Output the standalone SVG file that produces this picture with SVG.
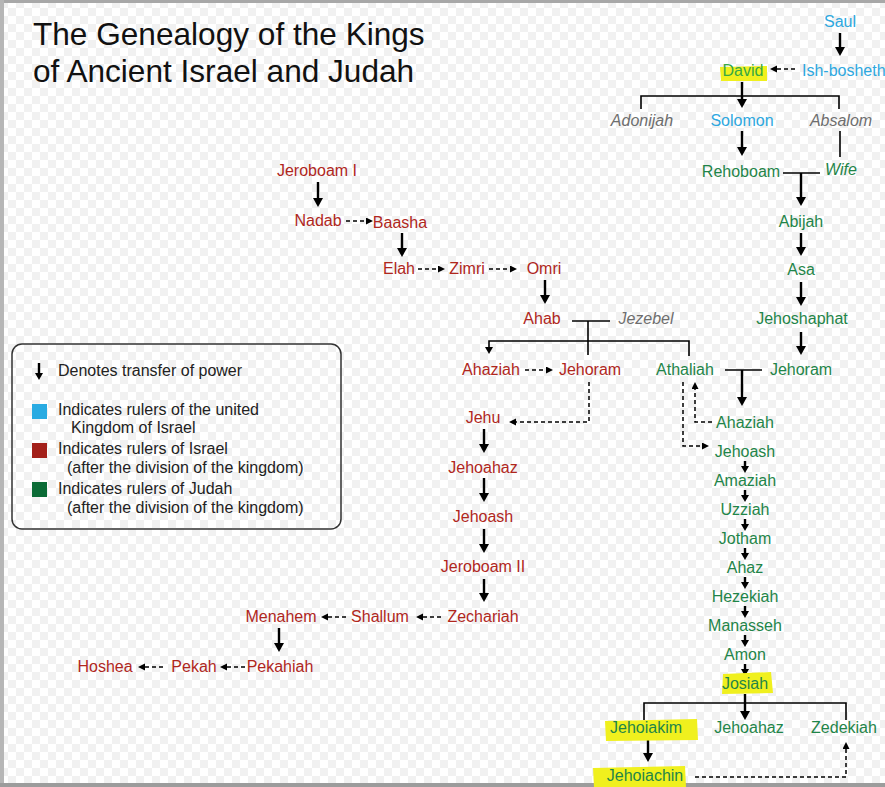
<svg xmlns="http://www.w3.org/2000/svg" width="885" height="787" viewBox="0 0 885 787">
<style>
text{font-family:"Liberation Sans",Arial,sans-serif;font-size:16px;text-anchor:middle}
.t{font-size:31.6px;text-anchor:start;fill:#111}
.b{fill:#2ea8df}.r{fill:#b0271d}.g{fill:#1f8549}.i{fill:#6e6e6e;font-style:italic}
.lg{text-anchor:start;fill:#222}
.hl{fill:#f0f01e}
.s{stroke:#000;stroke-width:2.4;fill:none}
.n{stroke:#000;stroke-width:1.6;fill:none}
.d{stroke:#000;stroke-width:1.5;fill:none;stroke-dasharray:4 3}
</style>
<defs>
<pattern id="chk" width="16" height="16" patternUnits="userSpaceOnUse"><rect width="16" height="16" fill="#ffffff"/><rect width="8" height="8" fill="#f1f1f1"/><rect x="8" y="8" width="8" height="8" fill="#f1f1f1"/></pattern>
<marker id="a" markerUnits="userSpaceOnUse" markerWidth="10" markerHeight="10" refX="5" refY="5" orient="auto"><path d="M0,0 L9,5 L0,10 z" fill="#000"/></marker>
<marker id="m" markerUnits="userSpaceOnUse" markerWidth="9" markerHeight="9" refX="4" refY="4" orient="auto"><path d="M0,0 L7,4 L0,8 z" fill="#000"/></marker>
<marker id="k" markerUnits="userSpaceOnUse" markerWidth="8" markerHeight="8" refX="3" refY="3.5" orient="auto"><path d="M0,0 L7,3.5 L0,7 z" fill="#000"/></marker>
</defs>
<rect width="885" height="787" fill="url(#chk)"/>
<rect x="0" y="0" width="885" height="3" fill="#a8a8a8"/>
<rect x="0" y="0" width="4" height="787" fill="#b6b6b6"/>
<rect x="0" y="783" width="885" height="4" fill="#9c9c9c"/>

<g id="title">
<text class="t" x="33" y="45">The Genealogy of the Kings</text>
<text class="t" x="33" y="82">of Ancient Israel and Judah</text>
</g>

<g id="legend">
<rect x="12" y="344" width="329" height="185" rx="10" fill="none" stroke="#333" stroke-width="1.5"/>
<line class="s" x1="39" y1="363" x2="39" y2="377" stroke-width="2" marker-end="url(#m)"/>
<text class="lg" x="58" y="376">Denotes transfer of power</text>
<rect x="32" y="404" width="15" height="15" fill="#29abe2"/>
<text class="lg" x="58" y="415">Indicates rulers of the united</text>
<text class="lg" x="71" y="433">Kingdom of Israel</text>
<rect x="32" y="443" width="15" height="15" fill="#a3201a"/>
<text class="lg" x="58" y="454">Indicates rulers of Israel</text>
<text class="lg" x="67" y="473">(after the division of the kingdom)</text>
<rect x="32" y="482" width="15" height="15" fill="#0b6b36"/>
<text class="lg" x="58" y="494">Indicates rulers of Judah</text>
<text class="lg" x="67" y="513">(after the division of the kingdom)</text>
</g>

<g id="connectors">
<line class="s" x1="840" y1="33" x2="840" y2="52" marker-end="url(#a)"/>
<path class="d" d="M795,69 H774" marker-end="url(#k)"/>
<path class="n" d="M641,109 V96 H839 V109"/>
<line class="s" x1="742" y1="82" x2="742" y2="104" marker-end="url(#a)"/>
<line class="s" x1="742" y1="131" x2="742" y2="152" marker-end="url(#a)"/>
<line class="n" x1="840" y1="131" x2="840" y2="157"/>
<line class="n" x1="783" y1="173" x2="820" y2="173"/>
<line class="s" x1="801" y1="173" x2="801" y2="202" marker-end="url(#a)"/>
<line class="s" x1="801" y1="233" x2="801" y2="252" marker-end="url(#a)"/>
<line class="s" x1="801" y1="282" x2="801" y2="302" marker-end="url(#a)"/>
<line class="s" x1="801" y1="332" x2="801" y2="351" marker-end="url(#a)"/>
<line class="n" x1="725" y1="370" x2="762" y2="370"/>
<line class="s" x1="742" y1="370" x2="742" y2="402" marker-end="url(#a)"/>
<path class="d" d="M712,422 H695 V386" marker-end="url(#k)"/>
<path class="d" d="M683,382 V446 H705" marker-end="url(#k)"/>
<line class="s" stroke-width="1.8" x1="745" y1="461" x2="745" y2="470" marker-end="url(#m)"/>
<line class="s" stroke-width="1.8" x1="745" y1="490" x2="745" y2="499" marker-end="url(#m)"/>
<line class="s" stroke-width="1.8" x1="745" y1="519" x2="745" y2="528" marker-end="url(#m)"/>
<line class="s" stroke-width="1.8" x1="745" y1="548" x2="745" y2="557" marker-end="url(#m)"/>
<line class="s" stroke-width="1.8" x1="745" y1="577" x2="745" y2="586" marker-end="url(#m)"/>
<line class="s" stroke-width="1.8" x1="745" y1="606" x2="745" y2="615" marker-end="url(#m)"/>
<line class="s" stroke-width="1.8" x1="745" y1="635" x2="745" y2="644" marker-end="url(#m)"/>
<line class="s" stroke-width="1.8" x1="745" y1="664" x2="745" y2="673" marker-end="url(#m)"/>
<path class="n" d="M644,720 V703 H846 V720"/>
<line class="s" x1="745" y1="694" x2="745" y2="716" marker-end="url(#a)"/>
<line class="s" x1="648" y1="740" x2="648" y2="758" marker-end="url(#a)"/>
<path class="d" d="M695,777 H846 V746" marker-end="url(#k)"/>
<line class="s" x1="318" y1="182" x2="318" y2="203" marker-end="url(#a)"/>
<path class="d" d="M346,221 H369" marker-end="url(#k)"/>
<line class="s" x1="402" y1="233" x2="402" y2="253" marker-end="url(#a)"/>
<path class="d" d="M418,269 H441" marker-end="url(#k)"/>
<path class="d" d="M489,269 H513" marker-end="url(#k)"/>
<line class="s" x1="545" y1="280" x2="545" y2="300" marker-end="url(#a)"/>
<line class="n" x1="572" y1="321" x2="610" y2="321"/>
<line class="n" x1="588" y1="321" x2="588" y2="355"/>
<path class="n" d="M689,356 V341 H489 V351" marker-end="url(#m)"/>
<path class="d" d="M525,370 H549" marker-end="url(#k)"/>
<path class="d" d="M589,382 V422 H513" marker-end="url(#k)"/>
<line class="s" x1="484" y1="429" x2="484" y2="449" marker-end="url(#a)"/>
<line class="s" x1="484" y1="478" x2="484" y2="498" marker-end="url(#a)"/>
<line class="s" x1="484" y1="529" x2="484" y2="549" marker-end="url(#a)"/>
<line class="s" x1="484" y1="579" x2="484" y2="598" marker-end="url(#a)"/>
<path class="d" d="M441,617 H420" marker-end="url(#k)"/>
<path class="d" d="M346,617 H325" marker-end="url(#k)"/>
<line class="s" x1="279" y1="628" x2="279" y2="648" marker-end="url(#a)"/>
<path class="d" d="M245,667 H224" marker-end="url(#k)"/>
<path class="d" d="M163,667 H142" marker-end="url(#k)"/>
</g>

<g id="saul"><text class="b" x="840" y="27">Saul</text></g>
<g id="david"><path class="hl" d="M720,67 L767,66 L767,81 L721,81 z"/><text x="743" y="76" fill="#37a845">David</text></g>
<g id="ish-bosheth"><text class="b" x="802" y="76" style="text-anchor:start">Ish-bosheth</text></g>
<g id="adonijah"><text class="i" x="642" y="126">Adonijah</text></g>
<g id="solomon"><text class="b" x="742" y="126">Solomon</text></g>
<g id="absalom"><text class="i" x="841" y="126">Absalom</text></g>
<g id="rehoboam"><text class="g" x="741" y="177">Rehoboam</text></g>
<g id="wife"><text class="g" x="841" y="175" font-style="italic">Wife</text></g>
<g id="abijah"><text class="g" x="801" y="227">Abijah</text></g>
<g id="asa"><text class="g" x="801" y="275">Asa</text></g>
<g id="jehoshaphat"><text class="g" x="802" y="324">Jehoshaphat</text></g>
<g id="jehoram-judah"><text class="g" x="801" y="375">Jehoram</text></g>
<g id="athaliah"><text class="g" x="685" y="375">Athaliah</text></g>
<g id="ahaziah-judah"><text class="g" x="745" y="428">Ahaziah</text></g>
<g id="jehoash-judah"><text class="g" x="745" y="457">Jehoash</text></g>
<g id="amaziah"><text class="g" x="745" y="486">Amaziah</text></g>
<g id="uzziah"><text class="g" x="745" y="515">Uzziah</text></g>
<g id="jotham"><text class="g" x="745" y="544">Jotham</text></g>
<g id="ahaz"><text class="g" x="745" y="573">Ahaz</text></g>
<g id="hezekiah"><text class="g" x="745" y="602">Hezekiah</text></g>
<g id="manasseh"><text class="g" x="745" y="631">Manasseh</text></g>
<g id="amon"><text class="g" x="745" y="660">Amon</text></g>
<g id="josiah"><path class="hl" d="M723,674 L771,672 L773,693 L722,694 z"/><text class="g" x="745" y="689">Josiah</text></g>
<g id="jehoiakim"><path class="hl" d="M605,721 L697,719 L698,740 L606,741 z"/><text class="g" x="646" y="733">Jehoiakim</text></g>
<g id="jehoahaz-judah"><text class="g" x="749" y="733">Jehoahaz</text></g>
<g id="zedekiah"><text class="g" x="844" y="733">Zedekiah</text></g>
<g id="jehoiachin"><path class="hl" d="M593,768 L685,766 L686,787 L594,787 z"/><text class="g" x="645" y="781">Jehoiachin</text></g>

<g id="jeroboam-i"><text class="r" x="317" y="176">Jeroboam I</text></g>
<g id="nadab"><text class="r" x="318" y="226">Nadab</text></g>
<g id="baasha"><text class="r" x="400" y="228">Baasha</text></g>
<g id="elah"><text class="r" x="399" y="274">Elah</text></g>
<g id="zimri"><text class="r" x="467" y="274">Zimri</text></g>
<g id="omri"><text class="r" x="544" y="274">Omri</text></g>
<g id="ahab"><text class="r" x="542" y="324">Ahab</text></g>
<g id="jezebel"><text class="i" x="646" y="324">Jezebel</text></g>
<g id="ahaziah-israel"><text class="r" x="491" y="375">Ahaziah</text></g>
<g id="jehoram-israel"><text class="r" x="590" y="375">Jehoram</text></g>
<g id="jehu"><text class="r" x="483" y="423">Jehu</text></g>
<g id="jehoahaz-israel"><text class="r" x="483" y="473">Jehoahaz</text></g>
<g id="jehoash-israel"><text class="r" x="483" y="522">Jehoash</text></g>
<g id="jeroboam-ii"><text class="r" x="483" y="572">Jeroboam II</text></g>
<g id="zechariah"><text class="r" x="483" y="622">Zechariah</text></g>
<g id="shallum"><text class="r" x="380" y="622">Shallum</text></g>
<g id="menahem"><text class="r" x="281" y="622">Menahem</text></g>
<g id="pekahiah"><text class="r" x="280" y="672">Pekahiah</text></g>
<g id="pekah"><text class="r" x="194" y="672">Pekah</text></g>
<g id="hoshea"><text class="r" x="105" y="672">Hoshea</text></g>
</svg>
